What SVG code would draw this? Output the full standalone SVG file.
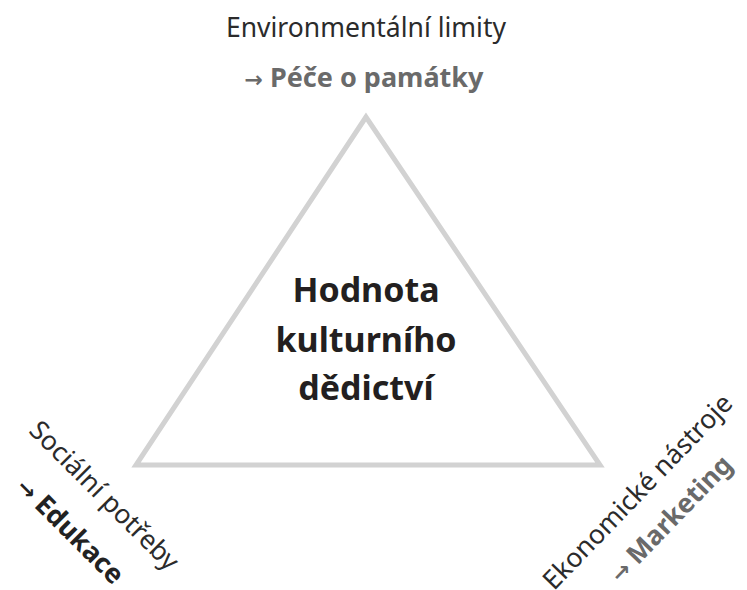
<svg xmlns="http://www.w3.org/2000/svg" width="747" height="590" viewBox="0 0 747 590">
<style>
.t{font-family:"Noto Sans","Open Sans",sans-serif}
.reg{font-size:26.5px;fill:#2b2b2b}
.bold{font-weight:bold}
.gray{fill:#6a6a6a}
.dark{fill:#222}
.center{font-size:34px;font-weight:bold;fill:#231f20}
</style>
<rect width="747" height="590" fill="#fff"/>
<g id="triangle">
<polygon points="366,117 136,465 600,465" fill="none" stroke="#d2d2d2" stroke-width="5" stroke-linejoin="miter"/>
</g>
<g id="center" class="t center" text-anchor="middle">
<text x="366" y="302">Hodnota</text>
<text x="366" y="352">kulturního</text>
<text x="366" y="400">dědictví</text>
</g>
<g id="top" class="t" text-anchor="middle">
<text class="reg" x="366" y="37">Environmentální limity</text>
<text class="bold gray" font-size="27" x="364" y="87"><tspan font-family="DejaVu Sans" font-size="22" font-weight="bold">→</tspan> Péče o památky</text>
</g>
<g id="left" class="t" text-anchor="middle">
<text class="reg" transform="translate(98,502) rotate(45)">Sociální potřeby</text>
<text class="bold dark" font-size="27" transform="translate(64,537) rotate(45)"><tspan font-family="DejaVu Sans" font-size="22" font-weight="bold">→</tspan> Edukace</text>
</g>
<g id="right" class="t" text-anchor="middle">
<text class="reg" font-size="25.5" transform="translate(644,498) rotate(-46)">Ekonomické nástroje</text>
<text class="bold gray" font-size="26.5" transform="translate(677,525) rotate(-46)"><tspan font-family="DejaVu Sans" font-size="22" font-weight="bold">→</tspan> Marketing</text>
</g>
</svg>
